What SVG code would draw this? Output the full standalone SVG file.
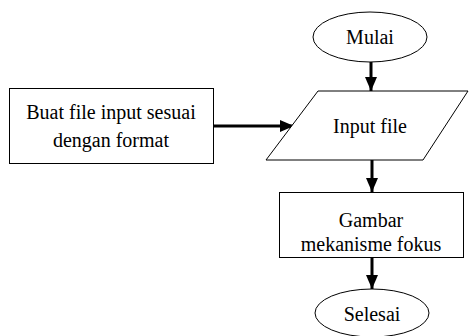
<svg xmlns="http://www.w3.org/2000/svg" width="470" height="336" viewBox="0 0 470 336">
<style>
.s{fill:#fff;stroke:#000;stroke-width:1}
.t{font-family:"Liberation Serif","Times New Roman",serif;font-size:20px;fill:#000;text-anchor:middle}
.c{stroke:#000;stroke-width:3;fill:none}
</style>
<defs>
<marker id="ah" markerUnits="userSpaceOnUse" markerWidth="14" markerHeight="14" viewBox="0 0 14 14" refX="14" refY="7" orient="auto">
<path d="M0,1 L14,7 L0,13 Z" fill="#000"/>
</marker>
</defs>
<rect width="470" height="336" fill="#fff"/>
<g id="connectors">
<line class="c" x1="371" y1="62" x2="371" y2="91" marker-end="url(#ah)"/>
<line class="c" x1="213" y1="126" x2="294" y2="126" stroke-width="4" marker-end="url(#ah)"/>
<line class="c" x1="372" y1="160" x2="372" y2="192" marker-end="url(#ah)"/>
<line class="c" x1="372" y1="257" x2="372" y2="289" marker-end="url(#ah)"/>
</g>
<g id="mulai">
<ellipse class="s" cx="370" cy="37" rx="57" ry="25"/>
<text class="t" x="370" y="44">Mulai</text>
</g>
<g id="buat">
<rect class="s" x="9.5" y="88.5" width="204" height="75"/>
<text class="t" x="111" y="119">Buat file input sesuai</text>
<text class="t" x="111" y="147">dengan format</text>
</g>
<g id="input">
<polygon class="s" points="318,91 468,91 423,160 266,160"/>
<text class="t" x="370" y="133">Input file</text>
</g>
<g id="gambar">
<rect class="s" x="279.5" y="192.5" width="184" height="65"/>
<text class="t" x="371" y="227">Gambar</text>
<text class="t" x="371" y="251">mekanisme fokus</text>
</g>
<g id="selesai">
<ellipse class="s" cx="372" cy="313" rx="57" ry="24"/>
<text class="t" x="372" y="321">Selesai</text>
</g>
</svg>
